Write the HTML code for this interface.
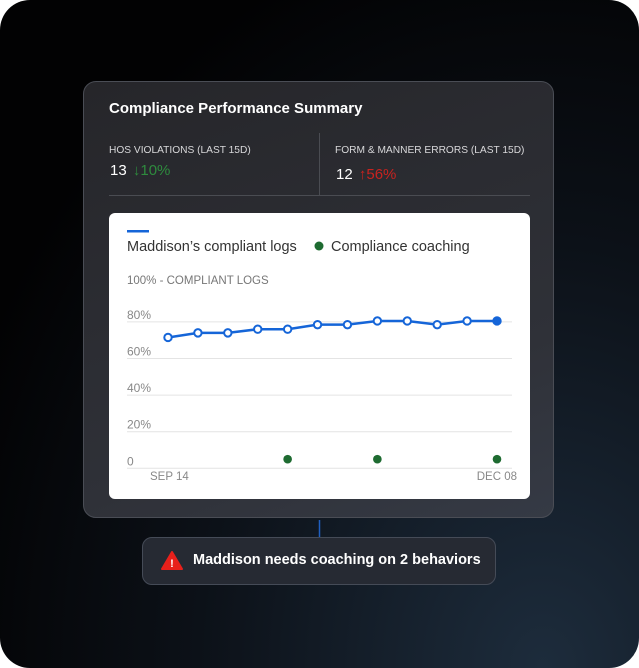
<!DOCTYPE html>
<html><head><meta charset="utf-8"><style>
html,body{margin:0;padding:0;width:639px;height:668px;overflow:hidden;background:#fff}
body{font-family:"Liberation Sans",sans-serif}
#bg{position:absolute;left:0;top:0;width:639px;height:668px;border-radius:30px;background:radial-gradient(ellipse at 85% 100%,#1d2c3c 0%,#0c1118 45%,#020203 80%)}
#card{position:absolute;left:83px;top:81px;width:471px;height:437px;border-radius:13px;background:linear-gradient(160deg,#26262a,#2f3138 70%,#353a45);border:1.5px solid #4a4d55;box-sizing:border-box}
.t{position:absolute;color:#fff}
#chart{position:absolute;left:109px;top:213px;width:421px;height:286px;background:#fff;border-radius:6px}
#pill{position:absolute;left:142px;top:537px;width:354px;height:48px;border-radius:10px;background:#262a33;border:1.5px solid #454b57;box-sizing:border-box}
</style></head><body>
<div id="bg"></div>
<div id="card"></div>
<div class="t" style="left:109px;top:100px;font-size:15px;font-weight:bold">Compliance Performance Summary</div>
<div class="t" style="left:109px;top:145px;font-size:10.2px;color:#d8d8da">HOS VIOLATIONS (LAST 15D)</div>
<div class="t" style="left:110px;top:162px;font-size:15px">13 <span style="color:#2e8b3e;margin-left:2px">↓10%</span></div>
<div style="position:absolute;left:319px;top:133px;width:1px;height:62px;background:#4a4c52"></div>
<div style="position:absolute;left:109px;top:195px;width:421px;height:1px;background:#4a4c52"></div>
<div class="t" style="left:335px;top:145px;font-size:10.2px;color:#d8d8da">FORM &amp; MANNER ERRORS (LAST 15D)</div>
<div class="t" style="left:336px;top:166px;font-size:15px">12 <span style="color:#c8231f;margin-left:2px">↑56%</span></div>
<div id="chart"></div>
<svg id="svg" width="639" height="668" style="position:absolute;left:0;top:0">
<rect x="127" y="230" width="22" height="2.5" fill="#1565d8"/>
<text x="127" y="251" font-size="14.5" fill="#333">Maddison’s compliant logs</text>
<circle cx="319" cy="246" r="4.5" fill="#1e6b31"/>
<text x="331" y="251" font-size="14.5" fill="#333">Compliance coaching</text>
<text x="127" y="284" font-size="11.5" fill="#777">100%  - COMPLIANT LOGS</text>
<g id="grid"></g><g id="series"></g>
<text x="150" y="480" font-size="11.5" fill="#888">SEP 14</text>
<text x="517" y="480" font-size="11.5" fill="#888" text-anchor="end">DEC 08</text>
<line x1="319.5" y1="520" x2="319.5" y2="537" stroke="#1f5fc0" stroke-width="1.5"/>
</svg>
<div id="pill"></div>
<svg width="639" height="668" style="position:absolute;left:0;top:0;pointer-events:none">
<path d="M172 552 L182 569 L162 569 Z" fill="#e8201b" stroke="#e8201b" stroke-width="2" stroke-linejoin="round"/>
<text x="172" y="567" font-size="11" font-weight="bold" fill="#fff" text-anchor="middle">!</text>
</svg>
<div class="t" style="left:193px;top:552px;font-size:14.5px;font-weight:bold">Maddison needs coaching on 2 behaviors</div>
<script>
const yTicks=[0,20,40,60,80];
const yTickLabels=["0","20%","40%","60%","80%"];
const compliant=[71.5,74,74,76,76,78.5,78.5,80.5,80.5,78.5,80.5,80.5];
const coachingIdx=[4,7,11];
const coachingVal=[5,5,5];
const NS="http://www.w3.org/2000/svg";
const x0=168,x1=497,y0=468.3,ppu=1.83;
const xs=i=>x0+(x1-x0)*i/(compliant.length-1);
const ys=v=>y0-v*ppu;
const grid=document.getElementById('grid'),ser=document.getElementById('series');
function mk(tag,attrs,parent){const e=document.createElementNS(NS,tag);for(const k in attrs)e.setAttribute(k,attrs[k]);parent.appendChild(e);return e;}
yTicks.forEach((v,i)=>{
 const l=mk('line',{x1:127,x2:512,y1:ys(v),y2:ys(v),stroke:'#e4e4e4','stroke-width':1},grid);
 
 
 const t=mk('text',{x:127,y:ys(v)-3,'font-size':12,fill:'#888'},grid);
 t.textContent=yTickLabels[i];
 
 
});
const pl=mk('polyline',{points:compliant.map((v,i)=>xs(i)+','+ys(v)).join(' '),fill:'none',stroke:'#1565d8','stroke-width':2.5},ser);


compliant.forEach((v,i)=>{
 const last=i===compliant.length-1;
 const c=mk('circle',{cx:xs(i),cy:ys(v),r:3.7,fill:last?'#1565d8':'#fff',stroke:'#1565d8','stroke-width':2},ser);
 
 
});
coachingIdx.forEach((idx,k)=>{
 const c=mk('circle',{cx:xs(idx),cy:ys(coachingVal[k]),r:4.3,fill:'#1e6b31'},ser);
 
 
});
</script>
</body></html>
